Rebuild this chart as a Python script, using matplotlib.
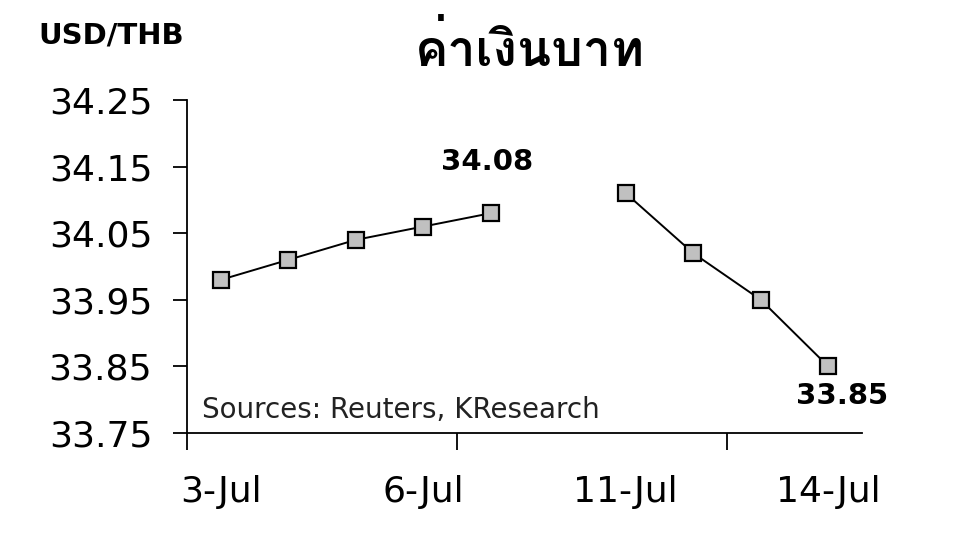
import numpy as np
import matplotlib
matplotlib.use('Agg')
import matplotlib.pyplot as plt
from matplotlib import font_manager
from matplotlib.ft2font import FT2Font

# USD/THB daily rates, 10-Jul has no data (holiday)
dates = ['3-Jul', '4-Jul', '5-Jul', '6-Jul', '7-Jul',
         '10-Jul', '11-Jul', '12-Jul', '13-Jul', '14-Jul']
rates = [33.98, 34.01, 34.04, 34.06, 34.08,
         np.nan, 34.11, 34.02, 33.95, 33.85]
shown_labels = ['3-Jul', '6-Jul', '11-Jul', '14-Jul']
y_ticks = [33.75, 33.85, 33.95, 34.05, 34.15, 34.25]
title = 'ค่าเงินบาท'
unit = 'USD/THB'
source = 'Sources: Reuters, KResearch'


def find_thai_font():
    # look for any installed font that has Thai glyphs, bold first
    found = []
    for f in font_manager.fontManager.ttflist:
        try:
            ft = FT2Font(f.fname)
            if ft.get_char_index(ord('ค')) and ft.get_char_index(ord('ิ')):
                found.append(f)
        except Exception:
            pass
    if not found:
        return 'DejaVu Sans'
    found.sort(key=lambda f: 0 if f.weight in ('bold', 700) else 1)
    return found[0].name


thai_font = find_thai_font()
plt.rcParams['font.family'] = ['DejaVu Sans']

fig = plt.figure(figsize=(9.6, 5.4), dpi=100)
ax = fig.add_axes([187 / 960, 107 / 540, 675 / 960, 333 / 540])

x = np.arange(len(dates))
ax.plot(x, rates, color='black', lw=1.4, marker='s', markersize=11,
        markerfacecolor='#c0c0c0', markeredgecolor='black', markeredgewidth=1.6,
        zorder=3)

ax.set_xlim(-0.5, len(dates) - 0.5)
ax.set_ylim(y_ticks[0], y_ticks[-1])
ax.set_yticks(y_ticks)
ax.set_yticklabels([f'{v:.2f}' for v in y_ticks], fontsize=26)
ax.tick_params(axis='y', direction='out', length=10, width=1.3, pad=15)

# labels on every third day, tick marks every fourth category boundary
ax.set_xticks([dates.index(d) for d in shown_labels])
ax.set_xticklabels(shown_labels, fontsize=26)
ax.tick_params(axis='x', which='major', length=0, pad=30)
ax.set_xticks([-0.5, 3.5, 7.5], minor=True)
ax.tick_params(axis='x', which='minor', direction='out', length=12, width=1.3)

for s in ['top', 'right']:
    ax.spines[s].set_visible(False)
for s in ['left', 'bottom']:
    ax.spines[s].set_linewidth(1.3)

# data labels for the first and last values
ax.annotate(f'{rates[4]:.2f}', (x[4], rates[4]), xytext=(-3, 27),
            textcoords='offset points', ha='center', va='bottom',
            fontsize=21, fontweight='bold')
ax.annotate(f'{rates[-1]:.2f}', (x[-1], rates[-1]), xytext=(10, -11),
            textcoords='offset points', ha='center', va='top',
            fontsize=21, fontweight='bold')

ax.text(0.022, 0.07, source, transform=ax.transAxes, fontsize=20,
        ha='left', va='center', color='#222222')

fig.text(38 / 960, 1 - 35 / 540, unit, fontsize=21, fontweight='bold',
         ha='left', va='center')
fig.text(530 / 960, 1 - 49 / 540, title, fontsize=36, fontweight='bold',
         ha='center', va='center', family=[thai_font, 'DejaVu Sans'])

fig.savefig('out.png', dpi=100)
